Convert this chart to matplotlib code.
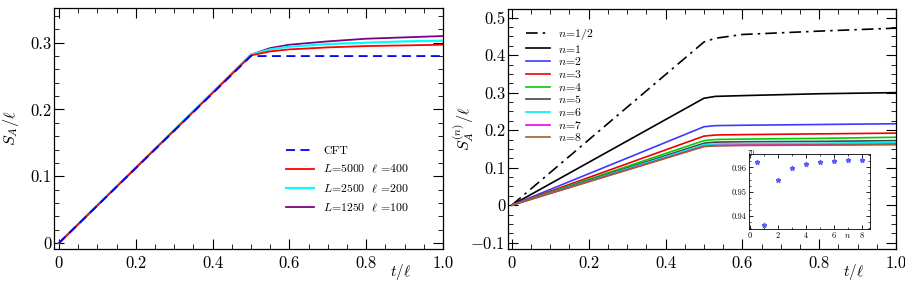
import numpy as np
import matplotlib
matplotlib.use("Agg")
import matplotlib.pyplot as plt
from matplotlib.ticker import MultipleLocator

plt.rcParams.update({
    "font.family": "serif",
    "font.serif": ["cmr10", "DejaVu Serif"],
    "mathtext.fontset": "cm",
    "axes.formatter.use_mathtext": True,
    "axes.unicode_minus": True,
})

# ---------------- data: left panel ----------------
t_left = [0.0, 0.5, 0.55, 0.6, 0.7, 0.8, 0.9, 1.0]
cft = [0.0, 0.28, 0.28, 0.28, 0.28, 0.28, 0.28, 0.28]
L5000 = [0.0, 0.281, 0.287, 0.290, 0.293, 0.295, 0.296, 0.297]
L2500 = [0.0, 0.282, 0.290, 0.294, 0.298, 0.300, 0.302, 0.303]
L1250 = [0.0, 0.282, 0.292, 0.297, 0.302, 0.306, 0.308, 0.310]

# ---------------- data: right panel ----------------
t_right = [0.0, 0.5, 0.53, 0.6, 0.8, 1.0]
n_labels = ["1/2", "1", "2", "3", "4", "5", "6", "7", "8"]
S_n = {
    "1/2": [0.0, 0.435, 0.445, 0.455, 0.464, 0.472],
    "1":   [0.0, 0.285, 0.290, 0.292, 0.297, 0.300],
    "2":   [0.0, 0.209, 0.212, 0.213, 0.215, 0.217],
    "3":   [0.0, 0.184, 0.187, 0.188, 0.190, 0.192],
    "4":   [0.0, 0.172, 0.175, 0.176, 0.178, 0.181],
    "5":   [0.0, 0.165, 0.168, 0.169, 0.170, 0.172],
    "6":   [0.0, 0.161, 0.163, 0.164, 0.165, 0.167],
    "7":   [0.0, 0.157, 0.159, 0.160, 0.161, 0.163],
    "8":   [0.0, 0.156, 0.158, 0.159, 0.160, 0.161],
}
n_colors = ["black", "black", "#3a3aff", "#ee0000", "#00cc00", "#444444",
            "#00eeee", "#ee00ee", "#a0602d"]
n_styles = ["-.", "-", "-", "-", "-", "-", "-", "-", "-"]

# inset
inset_n = [0.5, 1, 2, 3, 4, 5, 6, 7, 8]
inset_tau = [0.9623, 0.9364, 0.9549, 0.9597, 0.9615, 0.9622, 0.9627, 0.9630, 0.9630]

fig = plt.figure(figsize=(9.05, 2.85), dpi=100)
W, H = 905, 285
TFS = 12

def px_axes(x0, x1, y0, y1):
    return fig.add_axes([x0 / W, 1 - y1 / H, (x1 - x0) / W, (y1 - y0) / H])

def style(ax, fs=TFS):
    ax.tick_params(which="both", direction="in", top=True, right=True, labelsize=fs)
    ax.tick_params(which="major", length=7, width=0.8)
    ax.tick_params(which="minor", length=3.5, width=0.6)
    ax.tick_params(axis="x", which="major", pad=5)
    ax.tick_params(axis="y", which="major", pad=2)
    for s in ax.spines.values():
        s.set_linewidth(0.9)

xt = [0, 0.2, 0.4, 0.6, 0.8, 1.0]
xtl = ["0", "0.2", "0.4", "0.6", "0.8", "1.0"]

# ---------------- left ----------------
ax1 = px_axes(54, 443, 8, 249)
ax1.plot(t_left, L1250, color="#800080", lw=1.3, label=r"$L$=1250  $\ell$ =100")
ax1.plot(t_left, L2500, color="cyan", lw=1.6, label=r"$L$=2500  $\ell$ =200")
ax1.plot(t_left, L5000, color="red", lw=1.3, label=r"$L$=5000  $\ell$ =400")
ax1.plot(t_left, cft, color="blue", lw=1.3, ls=(0, (5, 3)), label="CFT")
ax1.set_xlim(-0.013, 1.0)
ax1.set_ylim(-0.009, 0.352)
ax1.xaxis.set_minor_locator(MultipleLocator(0.05))
ax1.yaxis.set_minor_locator(MultipleLocator(0.02))
ax1.set_xticks(xt)
ax1.set_xticklabels(xtl)
ax1.set_yticks([0, 0.1, 0.2, 0.3])
ax1.set_yticklabels(["0", "0.1", "0.2", "0.3"])
style(ax1)
ax1.set_ylabel(r"$S_A/\ell$", fontsize=11.5)
ax1.yaxis.set_label_coords(-0.085, 0.5)
ax1.text(0.89, -0.055, r"$t/\ell$", transform=ax1.transAxes, fontsize=11, ha="center", va="top")
h, l = ax1.get_legend_handles_labels()
ax1.legend(h[::-1], l[::-1], loc="lower right", bbox_to_anchor=(0.94, 0.1), frameon=False,
           fontsize=8.5, handlelength=2.3, labelspacing=0.6, handletextpad=0.8)

# ---------------- right ----------------
ax2 = px_axes(508, 896, 9, 249)
for lab, c, ls in zip(n_labels, n_colors, n_styles):
    ax2.plot(t_right, S_n[lab], color=c, ls=ls if ls != "-." else (0, (7, 3, 1.5, 3)),
             lw=1.2, label=r"$n$=" + lab)
ax2.set_xlim(-0.01, 1.0)
ax2.set_ylim(-0.117, 0.523)
ax2.xaxis.set_minor_locator(MultipleLocator(0.05))
ax2.yaxis.set_minor_locator(MultipleLocator(0.025))
ax2.set_xticks(xt)
ax2.set_xticklabels(xtl)
ax2.set_yticks([-0.1, 0, 0.1, 0.2, 0.3, 0.4, 0.5])
ax2.set_yticklabels([r"$-0.1$", "0", "0.1", "0.2", "0.3", "0.4", "0.5"])
style(ax2)
ax2.set_ylabel(r"$S_A^{(n)}/\ell$", fontsize=11.5)
ax2.yaxis.set_label_coords(-0.082, 0.5)
ax2.text(0.89, -0.055, r"$t/\ell$", transform=ax2.transAxes, fontsize=11, ha="center", va="top")
ax2.legend(loc="upper left", bbox_to_anchor=(0.02, 0.97), frameon=False, fontsize=8.5,
           handlelength=2.0, labelspacing=0.06, handletextpad=0.7)

# ---------------- inset ----------------
ax3 = px_axes(749, 870, 154, 229)
ax3.plot(inset_n, inset_tau, ls="none", marker="*", ms=3.5, color="#5a5aff")
ax3.set_xlim(-0.05, 8.6)
ax3.set_ylim(0.9347, 0.9655)
ax3.set_xticks([0, 2, 4, 6, 8])
ax3.set_xticklabels(["0", "2", "4", "6", "8"])
ax3.set_yticks([0.94, 0.95, 0.96])
ax3.set_yticklabels(["0.94", "0.95", "0.96"])
ax3.xaxis.set_minor_locator(MultipleLocator(1))
ax3.yaxis.set_minor_locator(MultipleLocator(0.0025))
ax3.tick_params(which="both", direction="in", top=True, right=True, labelsize=6, pad=2)
ax3.tick_params(which="major", length=3, width=0.6)
ax3.tick_params(which="minor", length=1.5, width=0.5)
for s in ax3.spines.values():
    s.set_linewidth(0.6)
ax3.text(7.0, 0.9335, r"$n$", fontsize=6, ha="center", va="top")
ax3.text(0.1, 0.9658, r"$\tau_0$", fontsize=6, ha="center", va="center")

fig.savefig("out.png", dpi=100)
